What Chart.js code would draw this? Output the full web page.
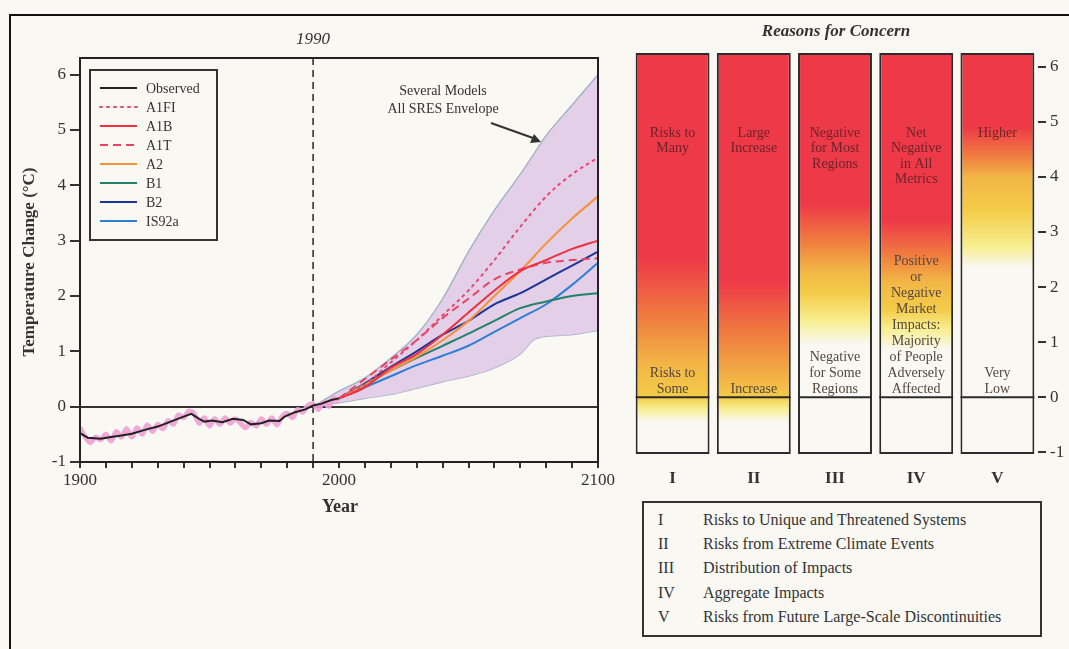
<!DOCTYPE html>
<html>
<head>
<meta charset="utf-8">
<title>Temperature change and Reasons for Concern</title>
<script src="https://cdn.jsdelivr.net/npm/chart.js@4.4.1/dist/chart.umd.min.js"></script>
<style>
  html, body { margin: 0; padding: 0; background: #f9f8f3; }
  body { width: 1069px; height: 649px; position: relative; overflow: hidden;
         font-family: "Liberation Serif", "DejaVu Serif", serif; color: #333; }
  #frame { position: absolute; left: 9px; top: 14px; right: 0; bottom: 0;
           border-top: 2px solid #111; border-left: 2px solid #111; }
  #left { position: absolute; left: 0; top: 0; }
  #right { position: absolute; left: 615px; top: 0; }
  #key { position: absolute; left: 642px; top: 501px; width: 396px; height: 132px; border: 2px solid #333; }
  #key div { position: absolute; font-size: 16px; line-height: 18px; white-space: nowrap; }
</style>
</head>
<body>
<div id="frame"></div>
<canvas id="left" width="615" height="530"></canvas>
<canvas id="right" width="454" height="500"></canvas>
<div id="key"></div>
<script>
// ---- left panel: global mean temperature change (deg C, relative to 1990) ----
const tempTicks = [-1, 0, 1, 2, 3, 4, 5, 6];

const obsYears = [1900, 1903, 1908, 1912, 1916, 1920, 1925, 1930, 1935, 1940, 1943, 1946, 1948, 1951, 1955, 1959,
  1963, 1966, 1970, 1973, 1977, 1979, 1983, 1987, 1990, 1993, 1997, 2000];
const obsSmooth = [-0.48, -0.56, -0.58, -0.55, -0.52, -0.49, -0.42, -0.36, -0.27, -0.18, -0.13, -0.22, -0.27, -0.25,
  -0.28, -0.22, -0.24, -0.32, -0.3, -0.25, -0.26, -0.18, -0.1, -0.05, 0.02, 0.05, 0.12, 0.15];

const annualYears = [1900, 1902, 1904, 1906, 1908, 1910, 1912, 1914, 1916, 1918, 1920, 1922, 1924, 1926, 1928, 1930,
  1932, 1934, 1936, 1938, 1940, 1942, 1944, 1946, 1948, 1950, 1952, 1954, 1956, 1958, 1960, 1962, 1964, 1966, 1968,
  1970, 1972, 1974, 1976, 1978, 1980, 1982, 1984, 1986, 1988, 1990, 1992, 1994, 1996, 1998, 2000];
const annualObs = [-0.38, -0.55, -0.65, -0.55, -0.6, -0.5, -0.62, -0.45, -0.55, -0.4, -0.55, -0.38, -0.5, -0.33,
  -0.45, -0.32, -0.4, -0.25, -0.32, -0.15, -0.2, -0.08, -0.12, -0.3, -0.2, -0.35, -0.22, -0.32, -0.2, -0.3, -0.22,
  -0.3, -0.38, -0.28, -0.35, -0.22, -0.32, -0.2, -0.33, -0.18, -0.12, -0.2, -0.05, -0.1, 0.02, 0.05, -0.05, 0.08,
  0.0, 0.15, 0.1];

const envYears = [1990, 2000, 2010, 2020, 2030, 2040, 2050, 2060, 2070, 2075, 2080, 2090, 2100];
const envUpper = [0, 0.28, 0.52, 0.88, 1.3, 1.95, 2.8, 3.55, 4.2, 4.55, 4.9, 5.45, 6.0];
const envLower = [0, 0.07, 0.15, 0.22, 0.33, 0.45, 0.55, 0.7, 0.95, 1.2, 1.27, 1.3, 1.38];

const scenYears = [2000, 2010, 2020, 2030, 2040, 2050, 2060, 2070, 2080, 2090, 2100];
const a1fi = [0.15, 0.4, 0.8, 1.2, 1.65, 2.1, 2.65, 3.25, 3.8, 4.2, 4.5];
const a1b = [0.15, 0.35, 0.7, 0.95, 1.3, 1.7, 2.1, 2.45, 2.65, 2.85, 3.0];
const a1t = [0.15, 0.5, 0.85, 1.2, 1.6, 1.95, 2.3, 2.48, 2.6, 2.65, 2.68];
const a2 = [0.15, 0.4, 0.65, 0.9, 1.2, 1.55, 2.0, 2.45, 2.95, 3.4, 3.8];
const b1 = [0.15, 0.4, 0.65, 0.88, 1.1, 1.32, 1.55, 1.78, 1.9, 2.0, 2.05];
const b2 = [0.15, 0.42, 0.72, 1.0, 1.3, 1.55, 1.85, 2.05, 2.3, 2.55, 2.8];
const is92a = [0.15, 0.35, 0.55, 0.75, 0.92, 1.1, 1.35, 1.6, 1.85, 2.2, 2.6];

// ---- right panel: Reasons for Concern ----
const concernIds = ['I', 'II', 'III', 'IV', 'V'];
const concernNames = ['Risks to Unique and Threatened Systems', 'Risks from Extreme Climate Events',
  'Distribution of Impacts', 'Aggregate Impacts', 'Risks from Future Large-Scale Discontinuities'];
const barLow = [-1.03, -1.03, -1.03, -1.03, -1.03];
const barHigh = [6.25, 6.25, 6.25, 6.25, 6.25];
const upperText = [['Risks to', 'Many'], ['Large', 'Increase'], ['Negative', 'for Most', 'Regions'],
  ['Net', 'Negative', 'in All', 'Metrics'], ['Higher']];
const lowerText = [['Risks to', 'Some'], ['Increase'], ['Negative', 'for Some', 'Regions'],
  ['Positive', 'or', 'Negative', 'Market', 'Impacts:', 'Majority', 'of People', 'Adversely', 'Affected'],
  ['Very', 'Low']];
// temperature (deg C) where each colour band sits in each bar
const shadeTemps = [
  [6.25, 2.5, 1.4, 0.6, 0, -0.2, -0.45],
  [6.25, 2.1, 1.1, 0.3, 0, -0.2, -0.45],
  [6.25, 3.5, 2.8, 2.3, 1.9, 1.4, 0.95],
  [6.25, 3.2, 2.55, 2.1, 1.6, 1.25, 0.85],
  [6.25, 4.9, 4.35, 4.0, 3.4, 2.75, 2.35],
];
const shadeColors = ['#ee3a48', '#ee3a48', '#f0803f', '#f2b646', '#f4cb48', '#f8ee8e', '#f9f8f3'];

const SERIF = '"Liberation Serif", "DejaVu Serif", serif';
const pts = (xs, ys) => xs.map((x, i) => ({ x, y: ys[i] }));

const scenarios = [
  { label: 'A1FI', data: a1fi, color: '#e8466e', dash: [2, 5] },
  { label: 'A1B', data: a1b, color: '#f0303e', dash: [] },
  { label: 'A1T', data: a1t, color: '#e84462', dash: [8, 5] },
  { label: 'A2', data: a2, color: '#f5913a', dash: [] },
  { label: 'B1', data: b1, color: '#23806a', dash: [] },
  { label: 'B2', data: b2, color: '#1d3596', dash: [] },
  { label: 'IS92a', data: is92a, color: '#2d7fd6', dash: [] },
];

const leftDecor = {
  id: 'leftDecor',
  beforeDatasetsDraw(chart) {
    const { ctx, chartArea: a, scales } = chart;
    const x90 = scales.x.getPixelForValue(1990);
    ctx.save();
    ctx.strokeStyle = '#333';
    ctx.lineWidth = 1.6;
    ctx.setLineDash([7, 5]);
    ctx.beginPath();
    ctx.moveTo(x90, a.top);
    ctx.lineTo(x90, a.bottom);
    ctx.stroke();
    ctx.restore();
  },
  afterDraw(chart) {
    const { ctx, chartArea: a, scales } = chart;
    ctx.save();
    // frame of plot
    ctx.strokeStyle = '#222';
    ctx.lineWidth = 2;
    ctx.strokeRect(a.left, a.top, a.right - a.left, a.bottom - a.top);

    ctx.fillStyle = '#333';
    ctx.textAlign = 'center';
    ctx.textBaseline = 'middle';
    ctx.font = 'italic 17px ' + SERIF;
    ctx.fillText('1990', scales.x.getPixelForValue(1990), 40);

    ctx.font = 'bold 18px ' + SERIF;
    ctx.fillText('Year', 340, 507);
    ctx.save();
    ctx.translate(30, 262);
    ctx.rotate(-Math.PI / 2);
    ctx.font = 'bold 17px ' + SERIF;
    ctx.fillText('Temperature Change (°C)', 0, 0);
    ctx.restore();

    // envelope note and arrow
    ctx.font = '14px ' + SERIF;
    ctx.fillText('Several Models', 443, 91);
    ctx.fillText('All SRES Envelope', 443, 109);
    ctx.strokeStyle = '#333';
    ctx.lineWidth = 2;
    ctx.beginPath();
    ctx.moveTo(491, 123);
    ctx.lineTo(533, 138);
    ctx.stroke();
    ctx.beginPath();
    ctx.moveTo(541, 142);
    ctx.lineTo(530, 143);
    ctx.lineTo(534, 134);
    ctx.closePath();
    ctx.fillStyle = '#333';
    ctx.fill();

    // legend box
    ctx.lineWidth = 2;
    ctx.strokeStyle = '#333';
    ctx.strokeRect(90, 70, 127, 170);
    const items = [{ label: 'Observed', color: '#222', dash: [] }].concat(scenarios);
    ctx.textAlign = 'left';
    ctx.font = '14px ' + SERIF;
    items.forEach((it, i) => {
      const y = 88 + i * 19;
      ctx.strokeStyle = it.color;
      ctx.lineWidth = 2;
      ctx.lineCap = it.dash.length && it.dash[0] < 4 ? 'round' : 'butt';
      ctx.setLineDash(it.dash);
      ctx.beginPath();
      ctx.moveTo(100, y);
      ctx.lineTo(137, y);
      ctx.stroke();
      ctx.setLineDash([]);
      ctx.fillStyle = '#333';
      ctx.fillText(it.label, 146, y + 1);
    });
    ctx.restore();
  },
};

new Chart(document.getElementById('left'), {
  type: 'line',
  data: {
    datasets: [
      { label: 'Observed', data: pts(obsYears, obsSmooth), borderColor: '#222', borderWidth: 2, tension: 0, order: 0 },
      ...scenarios.map((s, i) => ({
        label: s.label,
        data: pts(scenYears, s.data),
        borderColor: s.color,
        borderWidth: 2,
        borderDash: s.dash,
        borderCapStyle: s.dash.length && s.dash[0] < 4 ? 'round' : 'butt',
        cubicInterpolationMode: 'monotone',
        order: 1 + i,
      })),
      { label: 'Annual', data: pts(annualYears, annualObs), borderColor: 'rgba(240,160,212,0.9)', borderWidth: 5,
        tension: 0.3, order: 20 },
      { label: 'Envelope upper', data: pts(envYears, envUpper), borderColor: '#9eafc4', borderWidth: 1.3,
        backgroundColor: 'rgba(224,202,230,0.9)', fill: '+1', cubicInterpolationMode: 'monotone', order: 30 },
      { label: 'Envelope lower', data: pts(envYears, envLower), borderColor: '#9eafc4', borderWidth: 1.3,
        cubicInterpolationMode: 'monotone', order: 31 },
    ],
  },
  options: {
    responsive: false,
    animation: false,
    parsing: false,
    layout: { padding: { top: 58, right: 17, left: 0, bottom: 0 } },
    elements: { point: { radius: 0 } },
    plugins: { legend: { display: false }, tooltip: { enabled: false } },
    scales: {
      x: {
        type: 'linear', min: 1900, max: 2100,
        afterFit: (s) => { s.height = 68; s.paddingLeft = 0; s.paddingRight = 0; },
        ticks: { stepSize: 10, autoSkip: false, maxRotation: 0, padding: 2, color: '#333',
          font: { family: SERIF, size: 17 },
          callback: (v) => (v % 100 === 0 ? String(v) : '') },
        grid: { drawOnChartArea: false, tickLength: 6, tickColor: '#333', lineWidth: 2 },
        border: { color: '#222', width: 2 },
      },
      y: {
        min: -1, max: 6.3,
        afterBuildTicks: (s) => { s.ticks = tempTicks.map((v) => ({ value: v })); },
        afterFit: (s) => { s.width = 80; s.paddingTop = 0; s.paddingBottom = 0; },
        ticks: { padding: 4, color: '#333', font: { family: SERIF, size: 17 } },
        grid: { tickLength: 10, tickColor: '#333', lineWidth: 2,
          color: (c) => (c.tick && c.tick.value === 0 ? '#333' : 'rgba(0,0,0,0)') },
        border: { color: '#222', width: 2 },
      },
    },
  },
  plugins: [leftDecor],
});

function concernGradient(c) {
  const chart = c.chart;
  const i = c.dataIndex;
  if (!chart.chartArea || i === undefined) return shadeColors[0];
  const y = chart.scales.y;
  const span = y.max - y.min;
  const g = chart.ctx.createLinearGradient(0, y.getPixelForValue(y.max), 0, y.getPixelForValue(y.min));
  shadeTemps[i].forEach((t, k) => {
    g.addColorStop(Math.min(1, Math.max(0, (y.max - t) / span)), shadeColors[k]);
  });
  return g;
}

const rightDecor = {
  id: 'rightDecor',
  afterDatasetsDraw(chart) {
    const { ctx, scales } = chart;
    const bars = chart.getDatasetMeta(0).data;
    const y0 = scales.y.getPixelForValue(0);
    const yUp = scales.y.getPixelForValue(4.8);
    const yLow = scales.y.getPixelForValue(0.15);
    ctx.save();
    bars.forEach((bar, i) => {
      const half = bar.width / 2;
      ctx.strokeStyle = '#2b2b2b';
      ctx.lineWidth = 2;
      ctx.beginPath();
      ctx.moveTo(bar.x - half, y0);
      ctx.lineTo(bar.x + half, y0);
      ctx.stroke();

      ctx.textAlign = 'center';
      ctx.textBaseline = 'middle';
      ctx.font = '14px ' + SERIF;
      ctx.fillStyle = '#6e2229';
      upperText[i].forEach((line, k) => ctx.fillText(line, bar.x, yUp + k * 15.5));
      ctx.fillStyle = '#54463f';
      const n = lowerText[i].length;
      lowerText[i].forEach((line, k) => ctx.fillText(line, bar.x, yLow - (n - 1 - k) * 16));
    });
    ctx.fillStyle = '#333';
    ctx.font = 'bold italic 17px ' + SERIF;
    ctx.fillText('Reasons for Concern', 221, 32);
    ctx.restore();
  },
};

new Chart(document.getElementById('right'), {
  type: 'bar',
  data: {
    labels: concernIds,
    datasets: [{
      data: concernIds.map((_, i) => [barLow[i], barHigh[i]]),
      backgroundColor: concernGradient,
      borderColor: '#2b2b2b',
      borderWidth: 2,
      borderSkipped: false,
      barPercentage: 0.91,
      categoryPercentage: 1,
    }],
  },
  options: {
    responsive: false,
    animation: false,
    layout: { padding: { left: 17, top: 53, right: 0, bottom: 0 } },
    plugins: { legend: { display: false }, tooltip: { enabled: false } },
    scales: {
      x: {
        afterFit: (s) => { s.height = 46; s.paddingLeft = 0; s.paddingRight = 0; },
        grid: { display: false, drawTicks: false },
        border: { display: false },
        ticks: { padding: 14, color: '#333', font: { family: SERIF, size: 17, weight: 'bold' } },
      },
      y: {
        position: 'right', min: -1.03, max: 6.25,
        afterBuildTicks: (s) => { s.ticks = tempTicks.map((v) => ({ value: v })); },
        afterFit: (s) => { s.width = 31; s.paddingTop = 0; s.paddingBottom = 0; },
        ticks: { padding: 4, color: '#333', font: { family: SERIF, size: 17 } },
        grid: { drawOnChartArea: false, tickLength: 8, tickColor: '#333', lineWidth: 2 },
        border: { display: false },
      },
    },
  },
  plugins: [rightDecor],
});

// key to the five reasons
const key = document.getElementById('key');
concernIds.forEach((id, i) => {
  const top = 8 + i * 24.2;
  const a = document.createElement('div');
  a.style.left = '14px';
  a.style.top = top + 'px';
  a.textContent = id;
  const b = document.createElement('div');
  b.style.left = '59px';
  b.style.top = top + 'px';
  b.textContent = concernNames[i];
  key.appendChild(a);
  key.appendChild(b);
});
</script>
</body>
</html>
